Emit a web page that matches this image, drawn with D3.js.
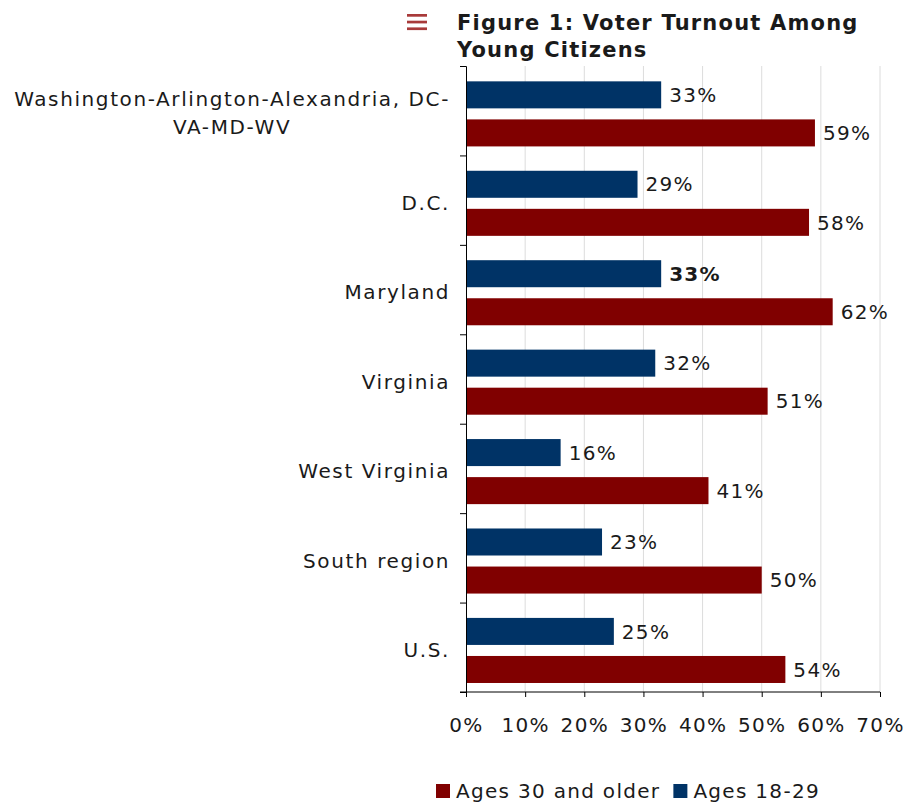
<!DOCTYPE html>
<html>
<head>
<meta charset="utf-8">
<script src="https://cdnjs.cloudflare.com/ajax/libs/d3/7.8.5/d3.min.js"></script>
<style>
  body { margin: 0; background: #fff; }
  text { font-family: "DejaVu Sans", Verdana, sans-serif; fill: #1a1a1a; letter-spacing: 1.3px; }
</style>
</head>
<body>
<div id="chart"></div>
<script>
var categories = [
    ["Washington-Arlington-Alexandria, DC-", "VA-MD-WV"],
    ["D.C."],
    ["Maryland"],
    ["Virginia"],
    ["West Virginia"],
    ["South region"],
    ["U.S."]
];
var young = [33, 29, 33, 32, 16, 23, 25];   // Ages 18-29
var older = [59, 58, 62, 51, 41, 50, 54];   // Ages 30 and older
var xTicks = [0, 10, 20, 30, 40, 50, 60, 70];
var boldLabel = 2; // Maryland young label drawn bold

var width = 920, height = 803;
var margin = { top: 66, right: 40, bottom: 111, left: 466 };
var fs = 20;

var blue = "#003366", red = "#800000";

var svg = d3.select("#chart").append("svg")
    .attr("width", width)
    .attr("height", height);

var x = d3.scaleLinear()
    .domain([0, 70])
    .range([margin.left, width - margin.right]);

var y = d3.scaleBand()
    .domain(d3.range(categories.length))
    .range([margin.top, height - margin.bottom]);

// inner band for the two bars
var sub = d3.scaleBand()
    .domain(["young", "older"])
    .range([0, y.bandwidth()])
    .paddingInner(0.29)
    .paddingOuter(0.32)
    .align(0.63);

// gridlines
svg.append("g")
    .selectAll("line")
    .data(xTicks.slice(1))
    .enter()
    .append("line")
    .attr("x1", function (d) { return x(d); })
    .attr("x2", function (d) { return x(d); })
    .attr("y1", margin.top)
    .attr("y2", height - margin.bottom)
    .attr("stroke", "#dcdcdc")
    .attr("stroke-width", 1);

// bars
var group = svg.append("g")
    .selectAll("g")
    .data(categories)
    .enter()
    .append("g")
    .attr("transform", function (d, i) { return "translate(0," + y(i) + ")"; });

group.append("rect")
    .attr("x", x(0))
    .attr("y", sub("young"))
    .attr("height", sub.bandwidth())
    .attr("width", function (d, i) { return x(young[i]) - x(0); })
    .attr("fill", blue);

group.append("rect")
    .attr("x", x(0))
    .attr("y", sub("older"))
    .attr("height", sub.bandwidth())
    .attr("width", function (d, i) { return x(older[i]) - x(0); })
    .attr("fill", red);

group.append("text")
    .attr("x", function (d, i) { return x(young[i]) + 8; })
    .attr("y", sub("young") + sub.bandwidth() / 2)
    .attr("dy", "0.36em")
    .attr("font-size", fs)
    .attr("font-weight", function (d, i) { return i == boldLabel ? "bold" : "normal"; })
    .text(function (d, i) { return young[i] + "%"; });

group.append("text")
    .attr("x", function (d, i) { return x(older[i]) + 8; })
    .attr("y", sub("older") + sub.bandwidth() / 2)
    .attr("dy", "0.36em")
    .attr("font-size", fs)
    .text(function (d, i) { return older[i] + "%"; });

// category labels
group.each(function (lines, i) {
    var g = d3.select(this);
    var cy = y.bandwidth() / 2 + 2.5;
    var lh = 28;
    var t = g.append("text")
        .attr("font-size", fs)
        .attr("text-anchor", "middle")
        .style("letter-spacing", "1.6px");
    var spans = t.selectAll("tspan")
        .data(lines)
        .enter()
        .append("tspan")
        .attr("y", function (d, j) { return cy + (j - (lines.length - 1) / 2) * lh; })
        .attr("dy", "0.36em")
        .text(function (d) { return d; });
    var w = 0;
    spans.each(function () { w = Math.max(w, this.getComputedTextLength()); });
    spans.attr("x", x(0) - 16 - w / 2);
});

// left axis
var yAxis = d3.axisLeft(d3.scaleLinear().range([margin.top, height - margin.bottom]))
    .tickValues(d3.range(0, 1.0001, 1 / categories.length))
    .tickSize(6)
    .tickFormat("");
svg.append("g")
    .attr("transform", "translate(" + x(0) + ",0)")
    .call(yAxis)
    .call(function (g) {
        g.select(".domain").attr("stroke", "#000");
        g.selectAll(".tick line").attr("stroke", "#000");
    });

// bottom axis
var xAxis = d3.axisBottom(x)
    .tickValues(xTicks)
    .tickSize(5)
    .tickSizeOuter(0)
    .tickPadding(21)
    .tickFormat(function (d) { return d + "%"; });
svg.append("g")
    .attr("transform", "translate(0," + (height - margin.bottom) + ")")
    .call(xAxis)
    .call(function (g) {
        g.select(".domain").attr("d", "M" + (x(0) - 6) + ",0H" + x(70));
        g.selectAll(".tick line").attr("stroke", "#000");
        g.selectAll(".tick text")
            .attr("font-size", fs)
            .attr("font-family", "DejaVu Sans, Verdana, sans-serif")
            .attr("fill", "#1a1a1a");
    });

// title
var title = svg.append("text")
    .attr("x", 457)
    .attr("font-size", 21)
    .attr("font-weight", "bold")
    .attr("fill", "#111")
    .style("letter-spacing", "1.2px");
title.append("tspan").attr("x", 457).attr("y", 30).text("Figure 1: Voter Turnout Among");
title.append("tspan").attr("x", 457).attr("y", 57).text("Young Citizens");

// menu icon
svg.append("g")
    .selectAll("rect")
    .data([0, 1, 2])
    .enter()
    .append("rect")
    .attr("x", 407)
    .attr("y", function (d) { return 14 + d * 6.7; })
    .attr("width", 20)
    .attr("height", 2.7)
    .attr("fill", "#a83a3a");

// legend
var legendItems = [
    { label: "Ages 30 and older", color: red },
    { label: "Ages 18-29", color: blue }
];
var legend = svg.append("g").attr("transform", "translate(436,784)");
var lx = 0;
legendItems.forEach(function (item) {
    legend.append("rect")
        .attr("x", lx)
        .attr("y", 0)
        .attr("width", 14)
        .attr("height", 14)
        .attr("fill", item.color);
    var t = legend.append("text")
        .attr("x", lx + 20)
        .attr("y", 14)
        .attr("font-size", fs)
        .text(item.label);
    lx += 20 + t.node().getComputedTextLength() + 13;
});
</script>
</body>
</html>
